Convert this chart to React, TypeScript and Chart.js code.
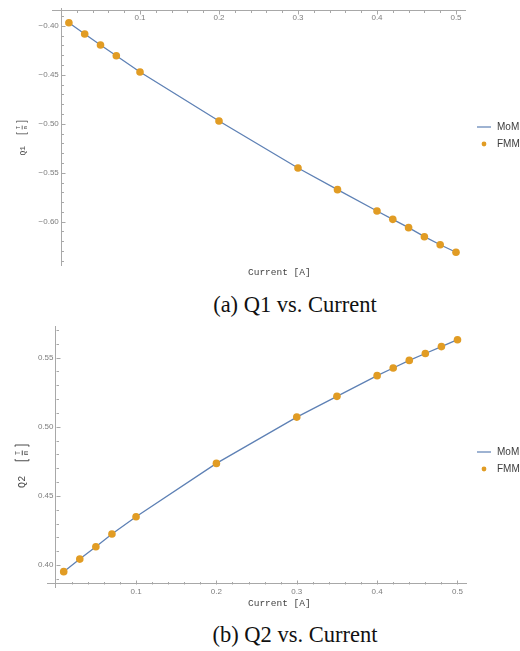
import { useEffect, useRef } from 'react';
import { Chart, registerables } from 'chart.js';

Chart.register(...registerables);

// ---------- data ----------
const CURRENT = [0.01, 0.03, 0.05, 0.07, 0.1, 0.2, 0.3, 0.35, 0.4, 0.42, 0.44, 0.46, 0.48, 0.5];
const Q1_MOM = [-0.397, -0.4085, -0.4197, -0.4306, -0.4472, -0.4972, -0.5452, -0.5673, -0.5891, -0.5976, -0.6061, -0.6153, -0.6235, -0.6312];
const Q1_FMM = [-0.397, -0.4085, -0.4197, -0.4306, -0.4472, -0.4972, -0.5452, -0.5673, -0.5891, -0.5976, -0.6061, -0.6153, -0.6235, -0.6312];
const Q2_MOM = [0.3952, 0.4043, 0.4132, 0.4224, 0.4349, 0.4735, 0.507, 0.522, 0.537, 0.5425, 0.548, 0.553, 0.558, 0.563];
const Q2_FMM = [0.3952, 0.4043, 0.4132, 0.4224, 0.4349, 0.4735, 0.507, 0.522, 0.537, 0.5425, 0.548, 0.553, 0.558, 0.563];

const X_TICK_LABELS = ['0.1', '0.2', '0.3', '0.4', '0.5'];
const Q1_TICK_LABELS = ['−0.40', '−0.45', '−0.50', '−0.55', '−0.60'];
const Q2_TICK_LABELS = ['0.40', '0.45', '0.50', '0.55'];
const SERIES_NAMES = ['MoM', 'FMM'];
const X_TITLE = 'Current [A]';
const Y_NAMES = ['Q1', 'Q2'];
const UNIT_NUM = 'T';
const UNIT_DEN = 'm';
const CAPTIONS = ['(a) Q1 vs. Current', '(b) Q2 vs. Current'];

// ---------- styles ----------
const MOM_COLOR = '#5E81B5';
const FMM_COLOR = '#E19C24';
const AXIS_COLOR = '#a8a8a8';
const TICK_LABEL_COLOR = '#7d7d7d';

const stepTicks = (min: number, max: number, step: number) => {
  const out: number[] = [];
  const s = Math.ceil(min / step - 1e-9);
  const e = Math.floor(max / step + 1e-9);
  for (let i = s; i <= e; i++) out.push(+(i * step).toFixed(4));
  return out;
};

const labelFor = (labels: string[], suffix = '') => (v: number) => {
  const hit = labels.find((l) => Math.abs(parseFloat(l.replace('−', '-')) - v) < 1e-6);
  return hit ? hit + suffix : '';
};

const decorPlugin = {
  id: 'mmaDecor',
  afterDraw(chart: any, _args: any, o: any) {
    const ctx = chart.ctx as CanvasRenderingContext2D;
    const xs = chart.scales.x;
    const ys = chart.scales.y;
    ctx.save();
    // inward tick marks
    ctx.strokeStyle = AXIS_COLOR;
    ctx.lineWidth = 1;
    const y0 = Math.round(ys.getPixelForValue(o.xAxisAt)) + 0.5;
    const x0 = Math.round(xs.getPixelForValue(0)) + 0.5;
    xs.ticks.forEach((t: any) => {
      if (Math.abs(t.value) < 1e-9) return;
      const px = Math.round(xs.getPixelForValue(t.value)) + 0.5;
      const len = t.label ? 4 : 2.5;
      ctx.beginPath();
      ctx.moveTo(px, y0);
      ctx.lineTo(px, y0 + o.xTickDir * len);
      ctx.stroke();
    });
    ys.ticks.forEach((t: any) => {
      const py = Math.round(ys.getPixelForValue(t.value)) + 0.5;
      const len = t.label ? 4 : 2.5;
      ctx.beginPath();
      ctx.moveTo(x0, py);
      ctx.lineTo(x0 + len, py);
      ctx.stroke();
    });

    // x title
    ctx.fillStyle = '#444';
    ctx.font = '9.5px "Liberation Mono", monospace';
    ctx.textAlign = 'left';
    ctx.textBaseline = 'middle';
    ctx.fillText(X_TITLE, o.xTitleX, o.xTitleY);

    // y title (rotated, with fraction unit)
    ctx.save();
    ctx.translate(o.yTitleX, o.yTitleY);
    ctx.rotate(-Math.PI / 2);
    ctx.scale(o.yTitleScale, o.yTitleScale);
    ctx.fillStyle = '#4a4a4a';
    ctx.strokeStyle = '#4a4a4a';
    ctx.lineWidth = 0.8;
    ctx.textBaseline = 'middle';
    ctx.font = '8px "Liberation Mono", monospace';
    ctx.textAlign = 'left';
    ctx.fillText(o.yName, -17.5, 0.5);
    ctx.beginPath();
    ctx.moveTo(5.6, -5.5); ctx.lineTo(4.2, -5.5); ctx.lineTo(4.2, 5.5); ctx.lineTo(5.6, 5.5);
    ctx.stroke();
    ctx.beginPath();
    ctx.moveTo(15.4, -5.5); ctx.lineTo(16.8, -5.5); ctx.lineTo(16.8, 5.5); ctx.lineTo(15.4, 5.5);
    ctx.stroke();
    ctx.font = '5.5px "Liberation Mono", monospace';
    ctx.textAlign = 'center';
    ctx.fillText(UNIT_NUM, 10.5, -3.2);
    ctx.fillText(UNIT_DEN, 10.5, 3.6);
    ctx.beginPath();
    ctx.moveTo(8.6, 0.2); ctx.lineTo(12.4, 0.2);
    ctx.stroke();
    ctx.restore();

    // legend
    ctx.font = '10px "Liberation Sans", Arial, sans-serif';
    ctx.textAlign = 'left';
    ctx.textBaseline = 'middle';
    ctx.strokeStyle = MOM_COLOR;
    ctx.globalAlpha = 0.8;
    ctx.lineWidth = 1.5;
    ctx.beginPath();
    ctx.moveTo(o.legendX, o.legendY1);
    ctx.lineTo(o.legendX + 14, o.legendY1);
    ctx.stroke();
    ctx.globalAlpha = 1;
    ctx.fillStyle = FMM_COLOR;
    ctx.beginPath();
    ctx.arc(o.legendX + 7, o.legendY2, 2.4, 0, Math.PI * 2);
    ctx.fill();
    ctx.fillStyle = '#3c3c3c';
    ctx.fillText(SERIES_NAMES[0], o.legendX + 20, o.legendY1);
    ctx.fillText(SERIES_NAMES[1], o.legendX + 20, o.legendY2);
    ctx.restore();
  },
};

function buildConfig(p: any): any {
  const tickFont = { family: '"Liberation Sans", Arial, sans-serif', size: 8 };
  return {
    type: 'scatter',
    data: {
      datasets: [
        {
          label: SERIES_NAMES[0],
          data: CURRENT.map((x, i) => ({ x, y: p.mom[i] })),
          showLine: true,
          borderColor: MOM_COLOR,
          borderWidth: 1.3,
          pointRadius: 0,
          fill: false,
          order: 2,
        },
        {
          label: SERIES_NAMES[1],
          data: CURRENT.map((x, i) => ({ x, y: p.fmm[i] })),
          showLine: false,
          backgroundColor: FMM_COLOR,
          borderWidth: 0,
          pointRadius: 3.8,
          order: 1,
        },
      ],
    },
    options: {
      responsive: false,
      maintainAspectRatio: false,
      animation: false,
      layout: { padding: p.padding },
      scales: {
        x: {
          type: 'linear',
          min: p.xMin,
          max: p.xMax,
          bounds: 'data',
          position: { y: p.xAxisAt },
          grid: { display: true, drawOnChartArea: false, drawTicks: false },
          border: { display: true, color: AXIS_COLOR, width: 1 },
          afterBuildTicks: (s: any) => {
            s.ticks = stepTicks(p.xMin, p.xMax, 0.02).map((v) => ({ value: v }));
          },
          ticks: {
            autoSkip: false,
            maxRotation: 0,
            padding: 3,
            color: TICK_LABEL_COLOR,
            font: tickFont,
            callback: labelFor(X_TICK_LABELS),
          },
        },
        y: {
          type: 'linear',
          min: p.yMin,
          max: p.yMax,
          bounds: 'data',
          position: { x: 0 },
          grid: { display: true, drawOnChartArea: false, drawTicks: false },
          border: { display: true, color: AXIS_COLOR, width: 1 },
          afterBuildTicks: (s: any) => {
            s.ticks = stepTicks(p.yMin, p.yMax, 0.01).map((v) => ({ value: v }));
          },
          ticks: {
            autoSkip: false,
            padding: 3,
            color: TICK_LABEL_COLOR,
            font: tickFont,
            callback: labelFor(p.yLabels, ' '),
          },
        },
      },
      plugins: {
        legend: { display: false },
        tooltip: { enabled: false },
        mmaDecor: p.decor,
      },
    },
    plugins: [decorPlugin],
  };
}

const captionStyle = (top: number): any => ({
  position: 'absolute',
  left: 145,
  width: 300,
  top,
  textAlign: 'center',
  fontFamily: '"Liberation Serif", "Times New Roman", serif',
  fontSize: 22.5,
  lineHeight: 1,
  color: '#111',
  whiteSpace: 'nowrap',
});

export default function App() {
  const c1 = useRef<HTMLCanvasElement>(null);
  const c2 = useRef<HTMLCanvasElement>(null);

  useEffect(() => {
    const a = new Chart(
      c1.current!,
      buildConfig({
        mom: Q1_MOM,
        fmm: Q1_FMM,
        xMin: -0.0114,
        xMax: 0.5114,
        yMin: -0.6442,
        yMax: -0.3819,
        xAxisAt: -0.384,
        yLabels: Q1_TICK_LABELS,
        padding: { left: 52, right: 55, top: 8, bottom: 25 },
        decor: {
          xAxisAt: -0.384,
          xTickDir: 1,
          xTitleX: 248,
          xTitleY: 272.7,
          yName: Y_NAMES[0],
          yTitleX: 22,
          yTitleY: 138,
          yTitleScale: 1,
          legendX: 477,
          legendY1: 127,
          legendY2: 144,
        },
      })
    );
    const b = new Chart(
      c2.current!,
      buildConfig({
        mom: Q2_MOM,
        fmm: Q2_FMM,
        xMin: -0.0108,
        xMax: 0.5106,
        yMin: 0.3841,
        yMax: 0.5729,
        xAxisAt: 0.3863,
        yLabels: Q2_TICK_LABELS,
        padding: { left: 47, right: 54, top: 16, bottom: 23 },
        decor: {
          xAxisAt: 0.3863,
          xTickDir: -1,
          xTitleX: 248,
          xTitleY: 293.3,
          yName: Y_NAMES[1],
          yTitleX: 22,
          yTitleY: 156,
          yTitleScale: 1.25,
          legendX: 477,
          legendY1: 142,
          legendY2: 159,
        },
      })
    );
    return () => {
      a.destroy();
      b.destroy();
    };
  }, []);

  return (
    <div style={{ position: 'absolute', left: 0, top: 0, width: 520, height: 651, background: '#fff' }}>
      <canvas
        ref={c1}
        width={520}
        height={290}
        style={{ position: 'absolute', left: 0, top: 0, width: 520, height: 290 }}
      />
      <div style={captionStyle(294)}>{CAPTIONS[0]}</div>
      <canvas
        ref={c2}
        width={520}
        height={300}
        style={{ position: 'absolute', left: 0, top: 310, width: 520, height: 300 }}
      />
      <div style={captionStyle(624)}>{CAPTIONS[1]}</div>
    </div>
  );
}
